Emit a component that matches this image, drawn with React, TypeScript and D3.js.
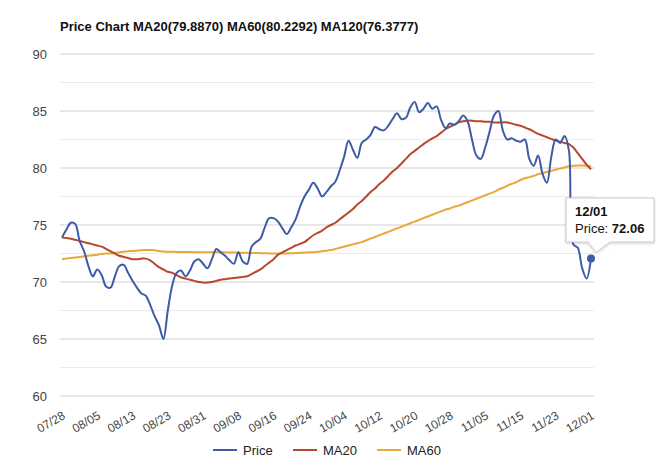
import React, { useLayoutEffect, useRef } from "react";
import { curveCatmullRom, line, range, scaleLinear, select } from "d3";

// chart data
const title = "Price Chart MA20(79.8870) MA60(80.2292) MA120(76.3777)";

const tickLabels = [
  "07/28", "08/05", "08/13", "08/23", "08/31", "09/08", "09/16", "09/24",
  "10/04", "10/12", "10/20", "10/28", "11/05", "11/15", "11/23", "12/01",
];
const tickEvery = 8;

const price = [
  73.9, 74.6, 75.2, 75.1, 73.6, 72.7, 71.4, 70.5, 71.1, 70.6,
  69.6, 69.5, 70.5, 71.4, 71.5, 70.8, 70.1, 69.5, 69.0, 68.8,
  68.0, 67.0, 66.2, 65.0, 67.5, 69.7, 70.8, 71.0, 70.5, 71.0,
  71.8, 72.0, 71.6, 71.2, 72.0, 72.9, 72.6, 72.3, 71.9, 71.6,
  72.6, 71.8, 71.6, 73.1, 73.5, 73.8, 74.8, 75.6, 75.6, 75.3,
  74.7, 74.2, 74.8, 75.5, 76.6, 77.5, 78.1, 78.7, 78.2, 77.5,
  77.9, 78.4, 78.8, 79.8, 81.0, 82.4, 81.6, 80.9, 82.2, 82.5,
  82.9, 83.6, 83.4, 83.3, 83.7, 84.3, 84.8, 84.3, 84.4, 85.3,
  85.8, 84.9, 85.2, 85.7, 85.2, 85.4, 84.2, 83.5, 83.9, 83.8,
  84.1, 84.6, 84.1, 82.5, 81.1, 80.8, 81.8, 83.2, 84.6, 85.0,
  83.3, 82.5, 82.6, 82.4, 82.3, 82.5, 80.8, 80.2, 81.1, 79.5,
  78.7, 81.0, 82.5, 82.2, 82.8, 81.5, 73.3, 73.0, 71.2, 70.3,
  72.06,
];

const ma20 = [
  73.9, 73.85, 73.8, 73.7, 73.6, 73.5, 73.4, 73.3, 73.2, 73.1,
  72.9, 72.7, 72.5, 72.3, 72.2, 72.1, 72.0, 72.0, 72.05, 72.05,
  71.9, 71.6, 71.3, 71.1, 70.9, 70.8, 70.6, 70.4, 70.3, 70.2,
  70.1, 70.0, 69.95, 69.95, 70.0, 70.1, 70.2, 70.25, 70.3, 70.35,
  70.4, 70.45, 70.5, 70.7, 70.9, 71.1, 71.4, 71.7, 72.0, 72.4,
  72.6, 72.8, 73.0, 73.2, 73.35, 73.5, 73.8, 74.1, 74.3, 74.5,
  74.8, 75.0, 75.2, 75.5, 75.8, 76.1, 76.4, 76.8, 77.1, 77.5,
  77.9, 78.2, 78.6, 78.9, 79.3, 79.7, 80.0, 80.4, 80.8, 81.2,
  81.5, 81.8, 82.1, 82.35, 82.6, 82.8, 83.1, 83.4, 83.6, 83.8,
  84.0, 84.1, 84.15, 84.15, 84.1, 84.1, 84.05, 84.05, 84.0, 84.0,
  84.0, 84.0, 83.9, 83.8, 83.7, 83.55, 83.4, 83.2, 83.0, 82.85,
  82.7, 82.55, 82.4, 82.3, 82.2, 82.1, 81.8, 81.3, 80.8, 80.3,
  79.89,
];

const ma60 = [
  72.0, 72.05, 72.1, 72.15, 72.2, 72.25, 72.3, 72.35, 72.4, 72.45,
  72.5, 72.5, 72.55, 72.6, 72.65, 72.7, 72.72, 72.75, 72.78, 72.8,
  72.8, 72.78, 72.72, 72.68, 72.65, 72.65, 72.64, 72.64, 72.63, 72.63,
  72.62, 72.62, 72.61, 72.61, 72.6, 72.6, 72.6, 72.6, 72.59, 72.59,
  72.58, 72.57, 72.56, 72.55, 72.54, 72.53, 72.52, 72.51, 72.5, 72.5,
  72.5, 72.5, 72.52, 72.54, 72.56, 72.58, 72.6, 72.62, 72.65, 72.7,
  72.75, 72.8, 72.9, 73.0, 73.1, 73.2, 73.3, 73.4, 73.5, 73.65,
  73.8, 73.95, 74.1, 74.25, 74.4, 74.55, 74.7, 74.85, 75.0, 75.15,
  75.3, 75.45, 75.6, 75.75, 75.9, 76.05, 76.2, 76.35, 76.45, 76.6,
  76.7, 76.85, 77.0, 77.15, 77.3, 77.45, 77.6, 77.75, 77.9, 78.1,
  78.25, 78.45, 78.6, 78.75, 78.95, 79.1, 79.2, 79.3, 79.45, 79.55,
  79.65, 79.75, 79.85, 79.95, 80.05, 80.15, 80.2, 80.22, 80.22, 80.2,
  80.15,
];

const yTicks = [60, 65, 70, 75, 80, 85, 90];
const seriesNames = ["Price", "MA20", "MA60"];
const seriesColors = ["#3e5ba8", "#b8482c", "#e7a83c"];

export default function App() {
  const ref = useRef<SVGSVGElement>(null);

  useLayoutEffect(() => {
    const width = 656;
    const height = 474;
    const font = "Arial, 'Liberation Sans', sans-serif";
    const gridLeft = 60;
    const gridRight = 594;

    const svg = select(ref.current);
    svg.selectAll("*").remove();
    svg.attr("width", width).attr("height", height).style("font-family", font);

    svg.append("rect").attr("width", width).attr("height", height).attr("fill", "#fff");

    const x = scaleLinear().domain([0, price.length - 1]).range([62, 591]);
    const y = scaleLinear().domain([60, 90]).range([396, 54]);

    // title
    svg
      .append("text")
      .text(title)
      .attr("x", 60)
      .attr("y", 31)
      .attr("font-size", 13)
      .attr("font-weight", "bold")
      .attr("fill", "#111");

    // grid lines, minor every 2.5
    const grid = svg.append("g");
    grid
      .selectAll("line")
      .data(range(60, 90.01, 2.5))
      .join("line")
      .attr("x1", gridLeft)
      .attr("x2", gridRight)
      .attr("y1", (d) => y(d))
      .attr("y2", (d) => y(d))
      .attr("stroke", (d) => (d % 5 === 0 ? "#cfcfcf" : "#ececec"))
      .attr("stroke-width", 1);

    // y labels
    svg
      .append("g")
      .selectAll("text")
      .data(yTicks)
      .join("text")
      .text((d) => d)
      .attr("x", 47)
      .attr("y", (d) => y(d))
      .attr("dy", "0.35em")
      .attr("text-anchor", "end")
      .attr("font-size", 13)
      .attr("fill", "#444");

    // x labels, rotated
    svg
      .append("g")
      .selectAll("text")
      .data(tickLabels)
      .join("text")
      .text((d) => d)
      .attr("text-anchor", "end")
      .attr("font-size", 12)
      .attr("fill", "#444")
      .attr("transform", (d, i) => `translate(${x(i * tickEvery) + 4},${418}) rotate(-30)`);

    // series lines
    const path = line<number>()
      .x((d, i) => x(i))
      .y((d) => y(d))
      .curve(curveCatmullRom.alpha(0.5));

    [ma60, ma20, price].forEach((s, k) => {
      svg
        .append("path")
        .attr("d", path(s))
        .attr("fill", "none")
        .attr("stroke", seriesColors[2 - k])
        .attr("stroke-width", 2)
        .attr("stroke-linejoin", "round");
    });

    // legend
    const legendX = [213, 293, 377];
    const legend = svg.append("g");
    seriesNames.forEach((name, i) => {
      legend
        .append("line")
        .attr("x1", legendX[i])
        .attr("x2", legendX[i] + 24)
        .attr("y1", 450)
        .attr("y2", 450)
        .attr("stroke", seriesColors[i])
        .attr("stroke-width", 2);
      legend
        .append("text")
        .text(name)
        .attr("x", legendX[i] + 30)
        .attr("y", 450)
        .attr("dy", "0.35em")
        .attr("font-size", 13)
        .attr("fill", "#222");
    });

    // tooltip on the last point
    const last = price.length - 1;
    const px = x(last);
    const py = y(price[last]);

    const defs = svg.append("defs");
    const f = defs.append("filter").attr("id", "shadow").attr("x", "-20%").attr("y", "-20%").attr("width", "140%").attr("height", "150%");
    f.append("feDropShadow").attr("dx", 0).attr("dy", 1).attr("stdDeviation", 1.5).attr("flood-color", "#000").attr("flood-opacity", 0.18);

    const tip = svg.append("g");
    const bx = 566;
    const by = 198;
    const bw = 88;
    const bh = 44;
    tip
      .append("path")
      .attr(
        "d",
        `M${bx},${by} H${bx + bw} V${by + bh} H${bx + 44} L${px + 5},${py - 6} L${bx + 22},${by + bh} H${bx} Z`
      )
      .attr("fill", "#fff")
      .attr("stroke", "#c8c8c8")
      .attr("stroke-width", 1)
      .attr("filter", "url(#shadow)");

    tip
      .append("text")
      .text(tickLabels[tickLabels.length - 1])
      .attr("x", bx + 9)
      .attr("y", by + 18)
      .attr("font-size", 13)
      .attr("font-weight", "bold")
      .attr("fill", "#111");

    const t2 = tip
      .append("text")
      .attr("x", bx + 9)
      .attr("y", by + 35)
      .attr("font-size", 13)
      .attr("fill", "#111");
    t2.append("tspan").text(`${seriesNames[0]}: `);
    t2.append("tspan").text(price[last].toFixed(2)).attr("font-weight", "bold");

    svg
      .append("circle")
      .attr("cx", px)
      .attr("cy", py)
      .attr("r", 4)
      .attr("fill", seriesColors[0]);
  }, []);

  return (
    <div style={{ position: "absolute", left: 0, top: 0 }}>
      <svg ref={ref}></svg>
    </div>
  );
}
